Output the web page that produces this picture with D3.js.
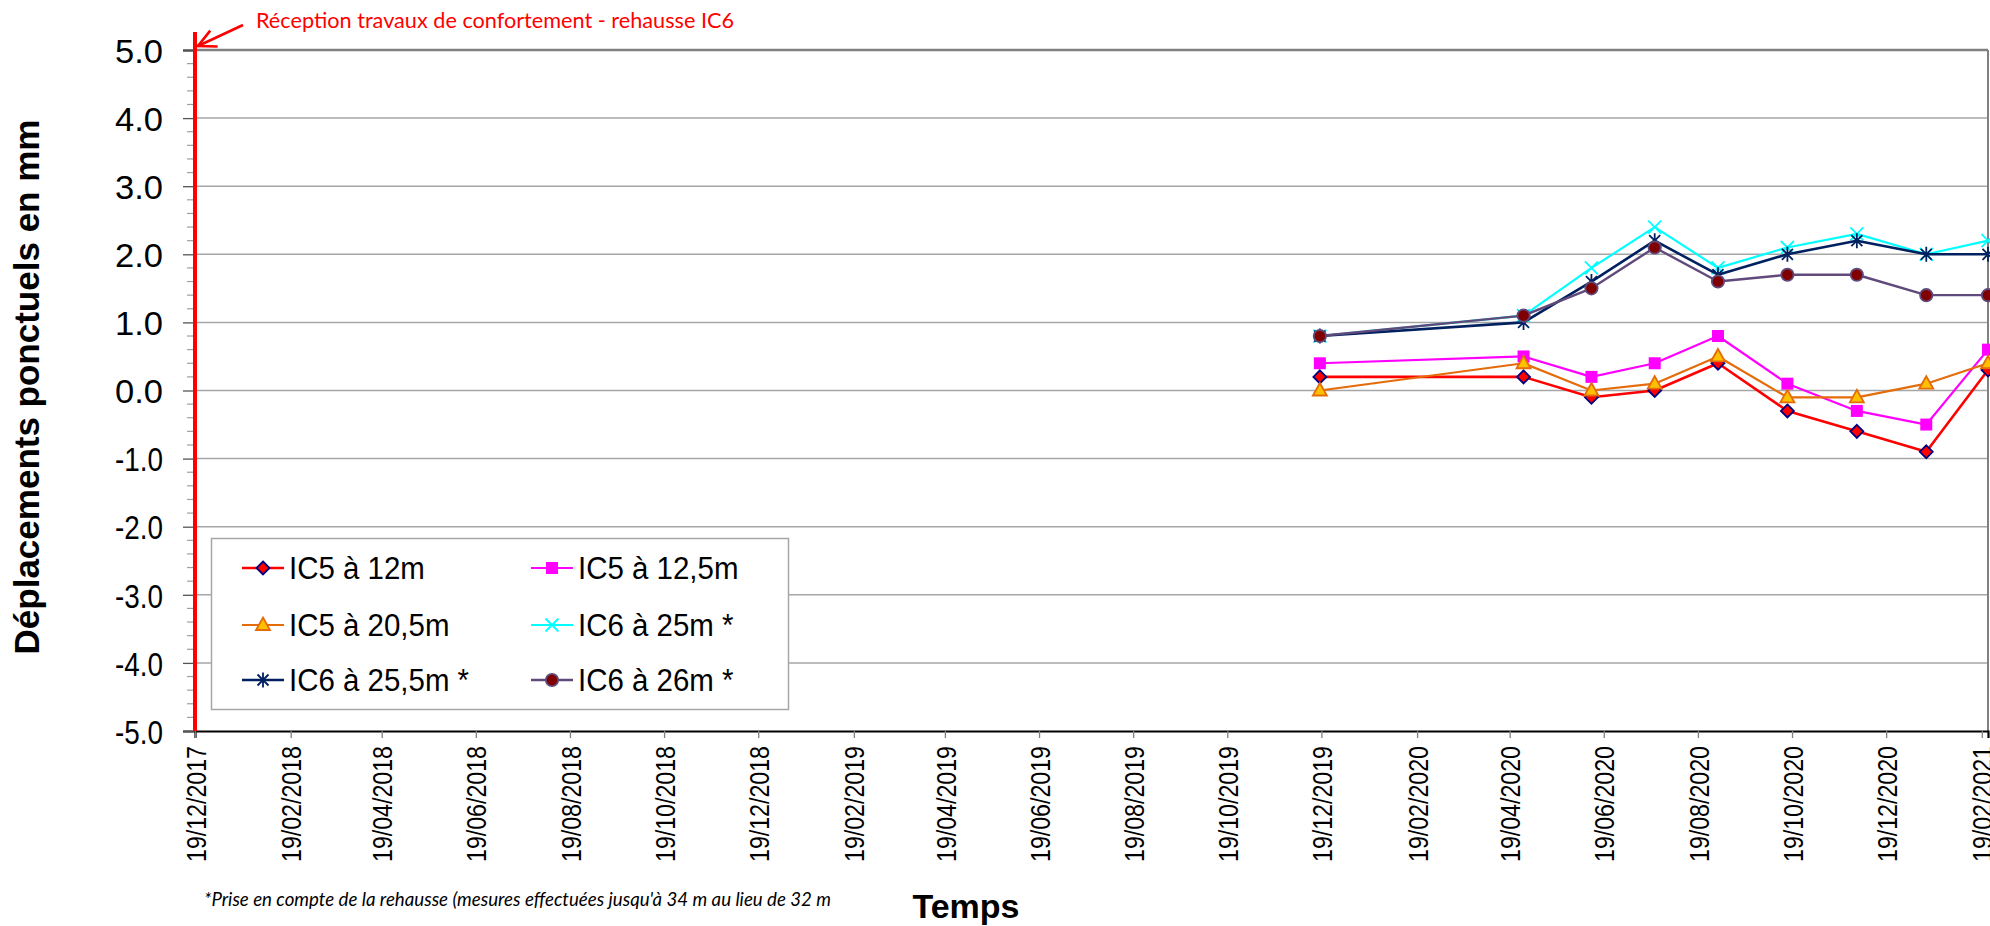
<!DOCTYPE html>
<html><head><meta charset="utf-8">
<script src="https://cdn.jsdelivr.net/npm/d3@7/dist/d3.min.js"></script>
<style>body{margin:0;background:#fff;} svg{display:block;}</style>
</head><body>
<svg id="chart" width="1990" height="926"></svg>
<script>
// ---------- DATA ----------
const dates   = ["2019-12-18","2020-04-28","2020-06-11","2020-07-22","2020-09-01","2020-10-16","2020-11-30","2021-01-14","2021-02-23"];
const ic5_12  = [0.2, 0.2, -0.1, 0.0, 0.4, -0.3, -0.6, -0.9, 0.3];
const ic5_125 = [0.4, 0.5,  0.2, 0.4, 0.8,  0.1, -0.3, -0.5, 0.6];
const ic5_205 = [0.0, 0.4,  0.0, 0.1, 0.5, -0.1, -0.1,  0.1, 0.4];
const ic6_25  = [0.8, 1.1,  1.8, 2.4, 1.8,  2.1,  2.3,  2.0, 2.2];
const ic6_255 = [0.8, 1.0,  1.6, 2.2, 1.7,  2.0,  2.2,  2.0, 2.0];
const ic6_26  = [0.8, 1.1,  1.5, 2.1, 1.6,  1.7,  1.7,  1.4, 1.4];
const seriesNames = ["IC5 à 12m","IC5 à 12,5m","IC5 à 20,5m","IC6 à 25m *","IC6 à 25,5m *","IC6 à 26m *"];
const xTickLabels = ["19/12/2017","19/02/2018","19/04/2018","19/06/2018","19/08/2018","19/10/2018","19/12/2018",
  "19/02/2019","19/04/2019","19/06/2019","19/08/2019","19/10/2019","19/12/2019",
  "19/02/2020","19/04/2020","19/06/2020","19/08/2020","19/10/2020","19/12/2020","19/02/2021"];
const yTicks = [-5,-4,-3,-2,-1,0,1,2,3,4,5];
const axisStart = "19/12/2017", axisEnd = "23/02/2021";
const eventDate = "19/12/2017";
const eventLabel = "Réception travaux de confortement - rehausse IC6";
const footnote = "*Prise en compte de la rehausse (mesures effectuées jusqu'à 34 m au lieu de 32 m";
const xTitle = "Temps";
const yTitle = "Déplacements ponctuels en mm";

// ---------- STYLES ----------
const styles = [
  {line:"#FF0000", lw:2.6, mk:"diamond", fill:"#FF0000", stroke:"#000080"},
  {line:"#FF00FF", lw:2.2, mk:"square",  fill:"#FF00FF", stroke:"none"},
  {line:"#E46C0A", lw:2.2, mk:"triangle",fill:"#FFC000", stroke:"#E46C0A"},
  {line:"#00FFFF", lw:2.2, mk:"cross",   fill:"none",    stroke:"#00FFFF"},
  {line:"#002060", lw:2.6, mk:"star",    fill:"none",    stroke:"#002060"},
  {line:"#604A7B", lw:2.4, mk:"circle",  fill:"#800000", stroke:"#604A7B"}
];
const markerPaths = {
  diamond: "M0,-6.5L6.5,0L0,6.5L-6.5,0Z",
  square: "M-6,-6H6V6H-6Z",
  triangle: "M0,-7.5L7,5L-7,5Z",
  cross: "M-6.5,-6.5L6.5,6.5M-6.5,6.5L6.5,-6.5",
  star: "M-5.5,-5.5L5.5,5.5M-5.5,5.5L5.5,-5.5M0,-7.5V7.5",
  circle: d3.symbol(d3.symbolCircle, 120)()
};

const parseISO = d3.timeParse("%Y-%m-%d");
const parseFR = d3.timeParse("%d/%m/%Y");
const seriesValues = [ic5_12, ic5_125, ic5_205, ic6_25, ic6_255, ic6_26];
const series = seriesNames.map((n,i)=>({name:n, style:styles[i],
  pts: dates.map((d,j)=>({date:parseISO(d), v:seriesValues[i][j]}))}));

const svg = d3.select("#chart");
const L = 195, R = 1988, T = 50, B = 731;
const x = d3.scaleTime().domain([parseFR(axisStart), parseFR(axisEnd)]).range([L, R]);
const y = d3.scaleLinear().domain([-5, 5]).range([B, T]);
const fmtY = v => v.toFixed(1);

// gridlines
svg.append("g").selectAll("line").data(yTicks.filter(v=>v>-5 && v<5)).join("line")
  .attr("x1", L).attr("x2", R).attr("y1", d=>y(d)).attr("y2", d=>y(d))
  .attr("stroke", "#a6a6a6").attr("stroke-width", 1.5);
// frame top/right
svg.append("line").attr("x1", L).attr("x2", R).attr("y1", y(5)).attr("y2", y(5))
  .attr("stroke", "#808080").attr("stroke-width", 2.5);
svg.append("line").attr("x1", R).attr("x2", R).attr("y1", y(5)).attr("y2", y(-5))
  .attr("stroke", "#808080").attr("stroke-width", 2);

// Y minor ticks
const minor = d3.range(-50, 51, 2).map(v=>v/10).filter(v=>!yTicks.includes(v));
svg.append("g").selectAll("line").data(minor).join("line")
  .attr("x1", L-8).attr("x2", L).attr("y1", d=>y(d)).attr("y2", d=>y(d))
  .attr("stroke", "#a0a0a0").attr("stroke-width", 1.2);
// Y axis
const yAxis = svg.append("g").attr("transform", `translate(${L},0)`)
  .call(d3.axisLeft(y).tickValues(yTicks).tickFormat(fmtY).tickSize(12).tickPadding(20));
yAxis.select(".domain").attr("stroke", "#000").attr("stroke-width", 2);
yAxis.selectAll(".tick line").attr("stroke", "#555").attr("stroke-width", 1.3);
yAxis.selectAll("text").attr("font-family", "'Liberation Sans', Arial, sans-serif")
  .attr("font-size", 34).attr("fill", "#000").attr("dy", "0.36em")
  .attr("textLength", 48).attr("lengthAdjust", "spacingAndGlyphs");

// X axis
const xAxis = svg.append("g").attr("transform", `translate(0,${B})`)
  .call(d3.axisBottom(x).tickValues(xTickLabels.map(parseFR)).tickFormat(d3.timeFormat("%d/%m/%Y")).tickSize(7));
xAxis.select(".domain").attr("stroke", "#000").attr("stroke-width", 2.2);
xAxis.selectAll(".tick line").attr("stroke", "#808080").attr("stroke-width", 1.3);
xAxis.selectAll("text").attr("font-family", "'Liberation Sans', Arial, sans-serif")
  .attr("font-size", 28).attr("fill", "#000")
  .attr("transform", "rotate(-90)").attr("text-anchor", "end")
  .attr("x", -15).attr("y", 0).attr("dy", "0.36em")
  .attr("textLength", 116).attr("lengthAdjust", "spacingAndGlyphs");

// Legend
const lg = svg.append("g");
lg.append("rect").attr("x", 211.5).attr("y", 538.5).attr("width", 577).attr("height", 171)
  .attr("fill", "#fff").attr("stroke", "#a6a6a6").attr("stroke-width", 1.5);
const colX = [242, 531], rowY = [568, 625, 680];
series.forEach((s,i)=>{
  const cx = colX[i%2], cy = rowY[Math.floor(i/2)];
  const g = lg.append("g");
  g.append("line").attr("x1", cx).attr("x2", cx+42).attr("y1", cy).attr("y2", cy)
    .attr("stroke", s.style.line).attr("stroke-width", s.style.lw);
  g.append("path").attr("d", markerPaths[s.style.mk]).attr("transform", `translate(${cx+21},${cy})`)
    .attr("fill", s.style.fill).attr("stroke", s.style.stroke).attr("stroke-width", 1.8);
  const t = g.append("text").attr("x", cx+47).attr("y", cy).attr("dy", "0.36em")
    .attr("font-family", "'Liberation Sans', Arial, sans-serif").attr("font-size", 31)
    .attr("fill", "#000").text(s.name);
  const w = t.node().getComputedTextLength();
  t.attr("textLength", w*0.95).attr("lengthAdjust", "spacingAndGlyphs");
});

// Series
const line = d3.line().x(d=>x(d.date)).y(d=>y(d.v));
series.forEach(s=>{
  const g = svg.append("g");
  g.append("path").datum(s.pts).attr("d", line).attr("fill", "none")
    .attr("stroke", s.style.line).attr("stroke-width", s.style.lw).attr("stroke-linejoin", "round");
  g.selectAll("path.m").data(s.pts).join("path").attr("class", "m")
    .attr("d", markerPaths[s.style.mk])
    .attr("transform", d=>`translate(${x(d.date)},${y(d.v)})`)
    .attr("fill", s.style.fill).attr("stroke", s.style.stroke).attr("stroke-width", 1.8);
});

// Event vertical line + arrow + label
const ex = x(parseFR(eventDate));
svg.append("line").attr("x1", ex).attr("x2", ex).attr("y1", 32).attr("y2", B)
  .attr("stroke", "#FF0000").attr("stroke-width", 4);
svg.append("defs").append("marker").attr("id", "arr").attr("viewBox", "0 0 10 10")
  .attr("refX", 9).attr("refY", 5)
  .attr("orient", "auto").attr("markerUnits", "userSpaceOnUse").attr("markerWidth", 22).attr("markerHeight", 22)
  .append("path").attr("d", "M1,1L9,5L1,9").attr("fill", "none").attr("stroke", "#FF0000").attr("stroke-width", 1.2);
svg.append("line").attr("x1", ex+48).attr("y1", 25).attr("x2", ex+3).attr("y2", 46)
  .attr("stroke", "#FF0000").attr("stroke-width", 2.6).attr("marker-end", "url(#arr)");
svg.append("text").attr("x", ex+61).attr("y", 28).attr("fill", "#FF0000")
  .attr("font-family", "Lato, 'Open Sans', sans-serif").attr("font-size", 22)
  .attr("textLength", 478).attr("lengthAdjust", "spacingAndGlyphs").text(eventLabel);

// Footnote
svg.append("text").attr("x", 204).attr("y", 906).attr("fill", "#000")
  .attr("font-family", "Lato, 'Open Sans', sans-serif").attr("font-style", "italic").attr("font-size", 20)
  .attr("textLength", 627).attr("lengthAdjust", "spacingAndGlyphs").text(footnote);

// Axis titles
svg.append("text").attr("x", 966).attr("y", 918).attr("text-anchor", "middle")
  .attr("font-family", "'Liberation Sans', Arial, sans-serif").attr("font-weight", "bold")
  .attr("font-size", 34).attr("fill", "#000").text(xTitle);
svg.append("text").attr("transform", "translate(39,387) rotate(-90)").attr("text-anchor", "middle")
  .attr("font-family", "'Liberation Sans', Arial, sans-serif").attr("font-weight", "bold")
  .attr("font-size", 35).attr("fill", "#000").text(yTitle);
</script>
</body></html>
